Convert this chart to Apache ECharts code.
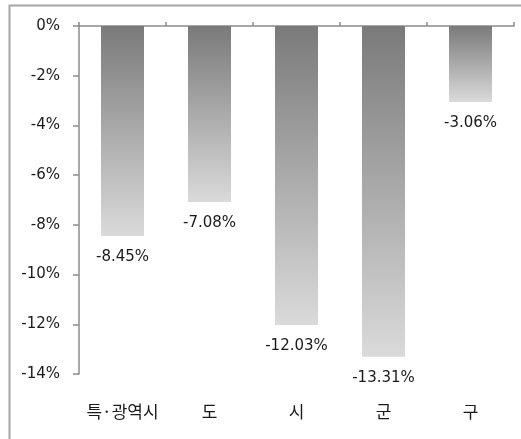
<!DOCTYPE html>
<html><head><meta charset="utf-8">
<script src="https://cdn.jsdelivr.net/npm/echarts@6/dist/echarts.min.js"></script>
<style>html,body{margin:0;padding:0;background:#fff}#c{width:521px;height:439px}</style>
</head><body><div id="c"></div>
<script>
const categories = ['특·광역시', '도', '시', '군', '구'];
const values = [-8.45, -7.08, -12.03, -13.31, -3.06];
const yTicks = [0, -2, -4, -6, -8, -10, -12, -14];

const chart = echarts.init(document.getElementById('c'), null, {renderer: 'canvas'});
const numFont = '"DejaVu Sans", sans-serif';
const korFont = '"Noto Sans CJK KR", sans-serif';
chart.setOption({
  animation: false,
  graphic: [{
    type: 'rect', left: 7, top: 3,
    shape: {width: 530, height: 450},
    style: {fill: 'none', stroke: '#a6a6a6', lineWidth: 2},
    silent: true
  }],
  grid: {left: 79, right: 7, top: 26, bottom: 65},
  xAxis: [{
    type: 'category', data: categories, position: 'top',
    axisLine: {onZero: false, lineStyle: {color: '#8c8c8c', width: 1.5}},
    axisTick: {show: true, length: 4, lineStyle: {color: '#8c8c8c', width: 1.5}},
    axisLabel: {show: false}
  }, {
    type: 'category', data: categories, position: 'bottom',
    axisLine: {show: false}, axisTick: {show: false},
    axisLabel: {interval: 0, margin: 29, color: '#1a1a1a', fontSize: 17, fontFamily: korFont}
  }],
  yAxis: {
    type: 'value', min: -14, max: 0, interval: 2,
    axisLine: {show: true, lineStyle: {color: '#8c8c8c', width: 1.5}},
    axisTick: {show: true, length: 6, lineStyle: {color: '#8c8c8c', width: 1.5}},
    splitLine: {show: false},
    axisLabel: {margin: 19, color: '#1a1a1a', fontSize: 15, fontFamily: numFont,
      formatter: v => (yTicks.includes(v) ? v + '%' : '')}
  },
  series: [{
    type: 'bar', data: values, xAxisIndex: 0, barWidth: 43,
    itemStyle: {
      color: new echarts.graphic.LinearGradient(0, 0, 0, 1, [
        {offset: 0, color: '#7a7a7a'}, {offset: 1, color: '#dadada'}
      ])
    },
    label: {
      show: true, position: 'bottom', distance: 14,
      color: '#1a1a1a', fontSize: 15, fontFamily: numFont,
      formatter: p => p.value.toFixed(2) + '%'
    }
  }]
});
</script></body></html>
